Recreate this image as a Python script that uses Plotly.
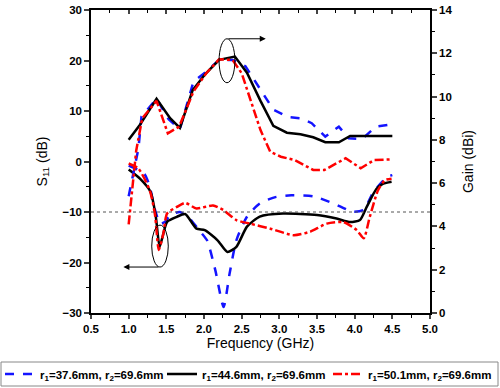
import plotly.graph_objects as go

# ---- data ----
names = ["r<sub>1</sub>=37.6mm, r<sub>2</sub>=69.6mm",
         "r<sub>1</sub>=44.6mm, r<sub>2</sub>=69.6mm",
         "r<sub>1</sub>=50.1mm, r<sub>2</sub>=69.6mm"]

# Gain (dBi), right axis
gain_blue_x = [1.0, 1.13, 1.17, 1.37, 1.53, 1.68, 1.86, 2.03, 2.2, 2.38, 2.55, 2.74, 2.92, 3.12, 3.28, 3.43, 3.61, 3.79, 3.92, 4.1, 4.28, 4.5]
gain_blue_y = [5.4, 7.6, 9.07, 9.9, 8.95, 8.5, 10.69, 11.15, 11.69, 11.69, 11.4, 10.4, 9.4, 9.05, 9.0, 8.77, 8.15, 8.61, 8.07, 8.04, 8.61, 8.72]

gain_black_x = [1.0, 1.15, 1.37, 1.55, 1.68, 1.85, 2.02, 2.2, 2.41, 2.57, 2.75, 2.92, 3.1, 3.28, 3.45, 3.61, 3.79, 3.94, 4.5]
gain_black_y = [8.0, 8.7, 9.9, 9.0, 8.55, 10.3, 11.05, 11.7, 11.85, 11.1, 9.8, 8.65, 8.33, 8.26, 8.12, 7.89, 7.89, 8.18, 8.18]

gain_red_x = [1.0, 1.1, 1.18, 1.37, 1.52, 1.67, 1.86, 2.03, 2.2, 2.38, 2.5, 2.62, 2.75, 2.88, 3.02, 3.2, 3.45, 3.6, 3.88, 4.08, 4.26, 4.5]
gain_red_y = [4.1, 7.5, 9.0, 9.8, 8.3, 8.61, 10.23, 11.08, 11.72, 11.69, 11.08, 9.8, 8.45, 7.45, 7.22, 7.07, 6.61, 6.61, 7.15, 6.69, 7.07, 7.1]

# S11 (dB), left axis
s11_blue_x = [1.0, 1.13, 1.22, 1.28, 1.35, 1.42, 1.48, 1.55, 1.68, 1.81, 1.95, 2.04, 2.15, 2.26, 2.34, 2.43, 2.57, 2.74, 2.96, 3.16, 3.45, 3.72, 3.98, 4.12, 4.25, 4.43, 4.5]
s11_blue_y = [-0.8, -1.7, -2.7, -5.0, -9.6, -12.3, -12.0, -10.6, -10.0, -11.3, -13.9, -15.6, -21.5, -28.8, -22.2, -15.6, -10.95, -8.3, -7.0, -6.7, -6.9, -8.3, -9.96, -9.6, -6.0, -3.1, -2.7]

s11_black_x = [1.0, 1.15, 1.29, 1.36, 1.41, 1.45, 1.51, 1.64, 1.75, 1.9, 2.01, 2.18, 2.31, 2.43, 2.57, 2.74, 3.05, 3.5, 3.76, 3.94, 4.07, 4.16, 4.29, 4.38, 4.49]
s11_black_y = [-1.6, -3.4, -6.0, -10.9, -16.9, -14.9, -11.95, -10.95, -10.4, -13.3, -13.6, -15.6, -17.9, -16.9, -12.9, -10.9, -10.3, -10.6, -11.3, -12.0, -11.6, -9.0, -5.4, -4.4, -4.0]

s11_red_x = [1.0, 1.13, 1.28, 1.35, 1.4, 1.46, 1.51, 1.64, 1.75, 1.9, 2.12, 2.26, 2.43, 2.61, 2.88, 3.19, 3.41, 3.63, 3.85, 4.03, 4.12, 4.2, 4.31, 4.4, 4.49]
s11_red_y = [-0.4, -1.4, -5.7, -10.6, -17.5, -14.3, -10.3, -9.0, -8.2, -9.3, -8.7, -9.65, -11.6, -12.3, -13.3, -14.6, -13.9, -12.3, -12.0, -13.6, -15.2, -11.0, -5.7, -3.7, -3.4]

x_ticks = [0.5, 1.0, 1.5, 2.0, 2.5, 3.0, 3.5, 4.0, 4.5, 5.0]
x_ticklabels = ["0.5", "1.0", "1.5", "2.0", "2.5", "3.0", "3.5", "4.0", "4.5", "5.0"]
s11_ticks = [-30, -20, -10, 0, 10, 20, 30]
gain_ticks = [0, 2, 4, 6, 8, 10, 12, 14]

colors = ["#1414ff", "#000000", "#ff0000"]
dashes = ["dash", "solid", "dashdot"]
legend_ids = ["legend", "legend2", "legend3"]
FONT = "Liberation Sans, Arial, sans-serif"

fig = go.Figure()
series = [
    (gain_blue_x, gain_blue_y, s11_blue_x, s11_blue_y),
    (gain_black_x, gain_black_y, s11_black_x, s11_black_y),
    (gain_red_x, gain_red_y, s11_red_x, s11_red_y),
]
for i, (gx, gy, sx, sy) in enumerate(series):
    fig.add_trace(go.Scatter(x=sx, y=sy, mode="lines", name=names[i], legendgroup=str(i),
                             legend=legend_ids[i],
                             line=dict(color=colors[i], dash=dashes[i], width=2.5, shape="spline", smoothing=0.6),
                             showlegend=True, yaxis="y"))
    fig.add_trace(go.Scatter(x=gx, y=gy, mode="lines", name=names[i], legendgroup=str(i),
                             legend=legend_ids[i],
                             line=dict(color=colors[i], dash=dashes[i], width=2.5),
                             showlegend=False, yaxis="y2"))

# empty helper trace so the top (mirror) tick axis is drawn
fig.add_trace(go.Scatter(x=[None], y=[None], xaxis="x2", yaxis="y", mode="lines",
                         showlegend=False, hoverinfo="skip"))

tickfont = dict(family=FONT, size=11.5, color="black", weight="bold")
legfont = dict(family=FONT, size=11.5, color="black", weight="bold")


def leg(xpx):
    return dict(orientation="h", xref="container", yref="container", x=xpx / 500.0, y=(388 - 374) / 388.0,
                xanchor="left", yanchor="middle", bgcolor="rgba(0,0,0,0)", borderwidth=0,
                font=legfont, itemwidth=30, tracegroupgap=0)


fig.update_layout(
    width=500, height=388,
    margin=dict(l=91, r=70, t=10, b=75, autoexpand=False),
    paper_bgcolor="white", plot_bgcolor="white",
    font=dict(family=FONT, color="black"),
    xaxis=dict(range=[0.5, 5.0], tickvals=x_ticks, ticktext=x_ticklabels, ticks="outside", ticklen=4,
               tickwidth=1.5, showline=True, linewidth=1.5, linecolor="black", mirror=True,
               showgrid=False, zeroline=False, tickfont=tickfont, automargin=False,
               minor=dict(dtick=0.25, ticks="outside", ticklen=3, tickwidth=1.2, tickcolor="black"),
               title=dict(text="Frequency (GHz)", font=dict(family=FONT, size=14), standoff=4)),
    xaxis2=dict(range=[0.5, 5.0], tickvals=x_ticks, overlaying="x", side="top", anchor="y",
                ticks="inside", ticklen=4, tickwidth=1.5, showticklabels=False, showline=False,
                showgrid=False, zeroline=False, automargin=False,
                minor=dict(dtick=0.25, ticks="inside", ticklen=3, tickwidth=1.2, tickcolor="black")),
    yaxis=dict(range=[-30, 30], tickvals=s11_ticks, ticks="outside", ticklen=5, tickwidth=1.5,
               showline=True, linewidth=1.5, linecolor="black", showgrid=False, zeroline=False,
               tickfont=tickfont, automargin=False,
               minor=dict(dtick=5, ticks="outside", ticklen=3, tickwidth=1.2, tickcolor="black"),
               title=dict(text="S<sub>11</sub> (dB)", font=dict(family=FONT, size=14), standoff=12)),
    yaxis2=dict(range=[0, 14], tickvals=gain_ticks, overlaying="y", side="right", ticks="outside",
                ticklen=5, tickwidth=1.5, showline=True, linewidth=1.5, linecolor="black",
                showgrid=False, zeroline=False, tickfont=tickfont, automargin=False,
                minor=dict(dtick=1, ticks="outside", ticklen=3, tickwidth=1.2, tickcolor="black"),
                title=dict(text="Gain (dBi)", font=dict(family=FONT, size=14), standoff=12)),
    legend=leg(-4), legend2=leg(162), legend3=leg(328),
    showlegend=True,
)

# legend frame
fig.add_shape(type="rect", xref="paper", yref="paper",
              x0=(1 - 91) / 339.0, x1=(498 - 91) / 339.0, y0=(313 - 386) / 303.0, y1=(313 - 362) / 303.0,
              line=dict(color="#888888", width=1), fillcolor="rgba(0,0,0,0)", layer="above")
# -10 dB reference line
fig.add_shape(type="line", xref="x", yref="y", x0=0.5, x1=5.0, y0=-10, y1=-10,
              line=dict(color="#555555", width=1, dash="dot"))
# ellipses
fig.add_shape(type="circle", xref="x", yref="y", x0=2.2, x1=2.41, y0=15.6, y1=24.3,
              line=dict(color="black", width=1))
fig.add_shape(type="circle", xref="x", yref="y", x0=1.306, x1=1.526, y0=-20.9, y1=-12.6,
              line=dict(color="black", width=1))
# arrows
fig.add_annotation(x=2.82, y=24.3, ax=2.305, ay=24.3, xref="x", yref="y", axref="x", ayref="y",
                   text="", showarrow=True, arrowhead=2, arrowsize=1.2, arrowwidth=1, arrowcolor="black")
fig.add_annotation(x=0.93, y=-20.9, ax=1.416, ay=-20.9, xref="x", yref="y", axref="x", ayref="y",
                   text="", showarrow=True, arrowhead=2, arrowsize=1.2, arrowwidth=1, arrowcolor="black")

fig.write_html("out.html", config={"displayModeBar": False},
               post_script="document.body.style.margin='0';")
